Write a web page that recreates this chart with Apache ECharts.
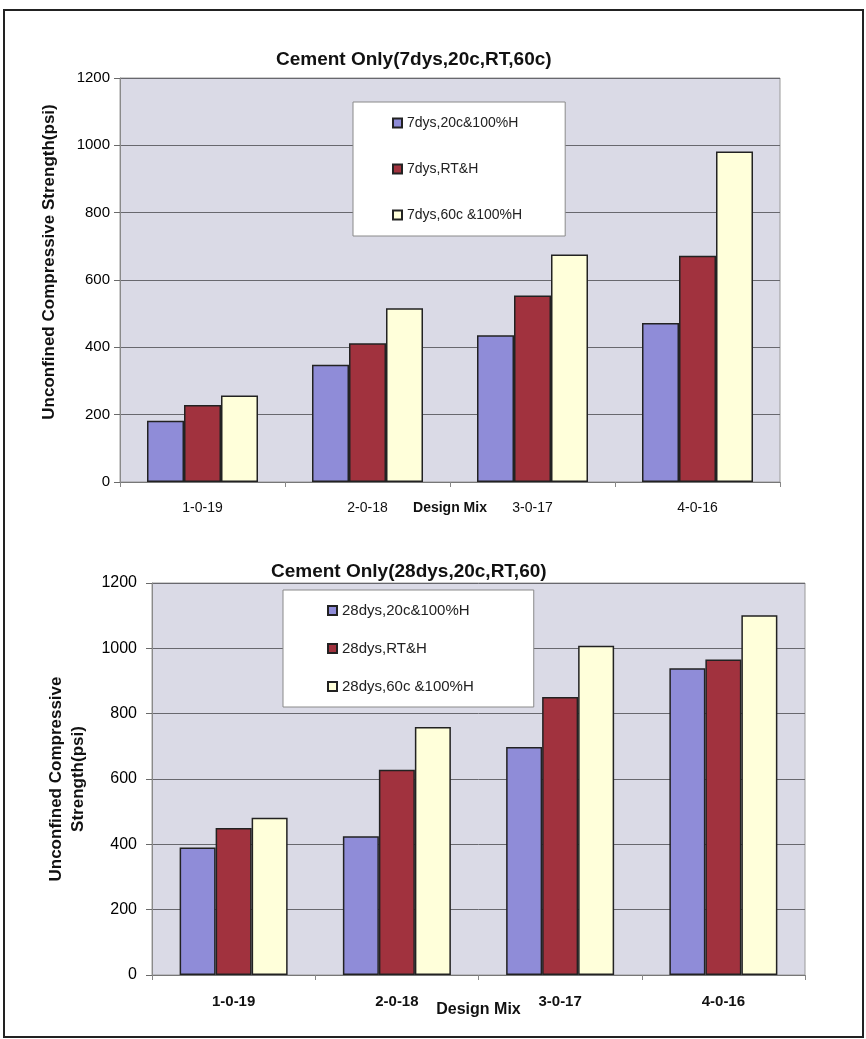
<!DOCTYPE html>
<html>
<head>
<meta charset="utf-8">
<title>Cement Only - Unconfined Compressive Strength</title>
<script src="https://cdn.jsdelivr.net/npm/echarts@6/dist/echarts.min.js"></script>
<style>
  html, body { margin: 0; padding: 0; background: #ffffff; }
  #chart { width: 866px; height: 1039px; }
</style>
</head>
<body>
<div id="chart"></div>
<script>
// Design mixes on the x axis (shared by both panels)
const categories = ['1-0-19', '2-0-18', '3-0-17', '4-0-16'];

// 7-day strengths (psi)
const names7 = ['7dys,20c&100%H', '7dys,RT&H', '7dys,60c &100%H'];
const cure7_20c = [182, 348, 436, 472];
const cure7_RT  = [229, 412, 554, 672];
const cure7_60c = [257, 516, 676, 982];

// 28-day strengths (psi)
const names28 = ['28dys,20c&100%H', '28dys,RT&H', '28dys,60c &100%H'];
const cure28_20c = [390, 425, 698, 939];
const cure28_RT  = [450, 628, 851, 966];
const cure28_60c = [481, 759, 1008, 1101];

// Y axis ticks
const yMin = 0, yMax = 1200, yStep = 200;

const FONT = 'Liberation Sans, Arial, Helvetica, sans-serif';
const colors = ['#8f8cd8', '#a1323e', '#ffffda'];
const plotBg = '#dadae6';
const gridLine = '#68686e';

function bars(name, data, color, axisIndex, width) {
  return {
    type: 'bar', name: name, data: data,
    xAxisIndex: axisIndex, yAxisIndex: axisIndex,
    barWidth: width, barGap: '0%',
    itemStyle: { color: color, borderColor: '#222', borderWidth: 1.5 },
    emphasis: { disabled: true }
  };
}

function yAxis(gridIndex, fontSize, margin, nameOpts) {
  return Object.assign({
    type: 'value', gridIndex: gridIndex,
    min: yMin, max: yMax, interval: yStep,
    axisLine: { show: true, lineStyle: { color: '#8a8a8a', width: 1 } },
    axisTick: { show: true, length: 6, lineStyle: { color: '#6a6a6a' } },
    axisLabel: { color: '#000', fontSize: fontSize, fontFamily: FONT, margin: margin,
      formatter: function (v) { return String(v); } },
    splitLine: { show: true, lineStyle: { color: gridLine, width: 1 } },
    nameLocation: 'middle', nameRotate: 90, nameMoveOverlap: false
  }, nameOpts);
}

function xAxis(gridIndex, fontSize, labelWeight, nameSize, nameGap) {
  return {
    type: 'category', gridIndex: gridIndex, data: categories,
    axisLine: { show: true, lineStyle: { color: '#777', width: 1 } },
    axisTick: { show: true, length: 5, lineStyle: { color: '#888' } },
    axisLabel: { color: '#111', fontSize: fontSize, fontWeight: labelWeight, fontFamily: FONT, margin: 19 },
    name: 'Design Mix', nameLocation: 'middle', nameGap: nameGap, nameMoveOverlap: false,
    nameTextStyle: { color: '#111', fontSize: nameSize, fontWeight: 'bold', fontFamily: FONT }
  };
}

const chart = echarts.init(document.getElementById('chart'), null, { renderer: 'canvas' });

chart.setOption({
  animation: false,
  backgroundColor: '#ffffff',
  title: [
    { text: 'Cement Only(7dys,20c,RT,60c)', left: 271, top: 45,
      textStyle: { color: '#111', fontSize: 19, fontWeight: 'bold', fontFamily: FONT } },
    { text: 'Cement Only(28dys,20c,RT,60)', left: 266, top: 557,
      textStyle: { color: '#111', fontSize: 19, fontWeight: 'bold', fontFamily: FONT } }
  ],
  legend: [
    { data: names7, orient: 'vertical', left: 353, top: 102,
      backgroundColor: '#ffffff', borderColor: '#8a8a8a', borderWidth: 1,
      padding: [14, 43, 14, 39], itemGap: 32, itemWidth: 9, itemHeight: 9,
      icon: 'rect', selectedMode: false,
      textStyle: { color: '#222', fontSize: 14, fontFamily: FONT } },
    { data: names28, orient: 'vertical', left: 283, top: 590,
      backgroundColor: '#ffffff', borderColor: '#8a8a8a', borderWidth: 1,
      padding: [13, 60, 13, 44], itemGap: 23, itemWidth: 9, itemHeight: 9,
      icon: 'rect', selectedMode: false,
      textStyle: { color: '#222', fontSize: 15, fontFamily: FONT } }
  ],
  grid: [
    { left: 120, right: 86, top: 78, height: 404, show: true,
      backgroundColor: plotBg, borderColor: '#9a9a9a', borderWidth: 1 },
    { left: 152, right: 61, top: 583, height: 392, show: true,
      backgroundColor: plotBg, borderColor: '#9a9a9a', borderWidth: 1 }
  ],
  xAxis: [
    xAxis(0, 14, 'normal', 14, 19),
    xAxis(1, 15, 'bold', 16, 27)
  ],
  yAxis: [
    yAxis(0, 15, 10, { name: 'Unconfined Compressive Strength(psi)', nameGap: 62,
      nameTextStyle: { color: '#111', fontSize: 17, fontWeight: 'bold', fontFamily: FONT, padding: [0, 0, 0, 36] } }),
    yAxis(1, 16, 15, { name: 'Unconfined Compressive\nStrength(psi)', nameGap: 63,
      nameTextStyle: { color: '#111', fontSize: 17, fontWeight: 'bold', fontFamily: FONT, lineHeight: 22, align: 'center' } })
  ],
  series: [
    bars(names7[0], cure7_20c, colors[0], 0, 37),
    bars(names7[1], cure7_RT,  colors[1], 0, 37),
    bars(names7[2], cure7_60c, colors[2], 0, 37),
    bars(names28[0], cure28_20c, colors[0], 1, 36),
    bars(names28[1], cure28_RT,  colors[1], 1, 36),
    bars(names28[2], cure28_60c, colors[2], 1, 36)
  ],
  graphic: [
    { type: 'rect', shape: { x: 4, y: 10, width: 859, height: 1027 },
      style: { fill: 'none', stroke: '#222', lineWidth: 2 }, silent: true, z: 100 }
  ]
});
</script>
</body>
</html>
